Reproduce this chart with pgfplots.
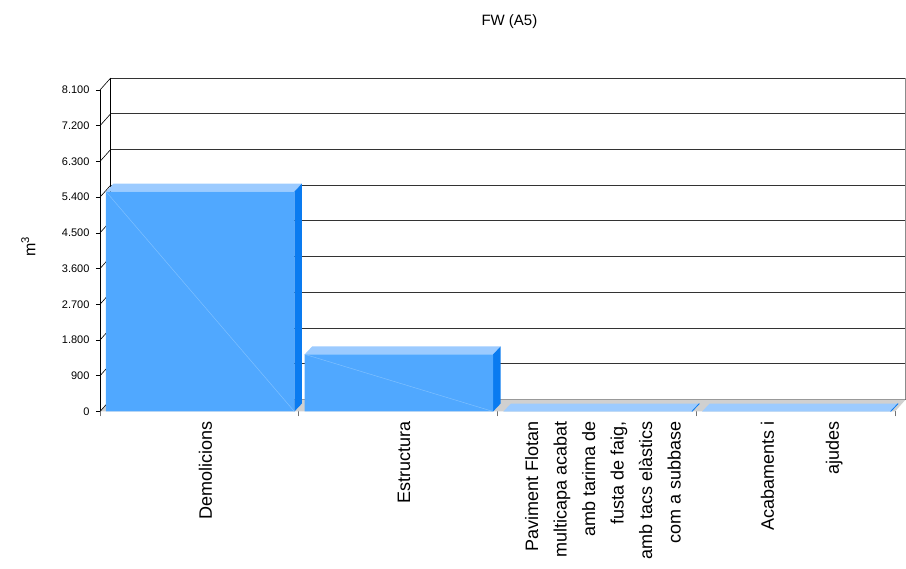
\documentclass[border=0pt]{standalone}
\usepackage{pgfplots}
\pgfplotsset{compat=1.18}
\usepackage{fontspec}
\setmainfont{Liberation Sans}

\definecolor{barfront}{RGB}{80,168,255}
\definecolor{bartop}{RGB}{156,203,255}
\definecolor{barside}{RGB}{10,123,240}
\definecolor{barline}{RGB}{125,192,255}
\definecolor{floorgray}{RGB}{208,208,208}

\begin{document}
\begin{tikzpicture}
\useasboundingbox (0,0) rectangle (906pt,569pt);
\begin{axis}[
  at={(100pt,157.5pt)}, anchor=south west,
  scale only axis, width=795pt, height=321.5pt,
  xmin=0, xmax=4, ymin=0, ymax=8100,
  clip=false,
  axis lines*=left,
  x axis line style={draw=none},
  y axis line style={black, line width=0.8pt},
  tick align=outside,
  major tick length=4pt,
  minor tick length=5pt,
  ytick={0,900,...,8100},
  scaled y ticks=false,
  y tick style={black, line width=0.6pt},
  yticklabel style={font=\fontsize{11}{13}\selectfont, xshift=-3pt},
  /pgf/number format/1000 sep={.},
  /pgf/number format/assume math mode=true,
  ymajorgrids,
  major grid style={black!80, line width=0.8pt, xshift=10.7pt, yshift=12pt},
  xtick={0.5,1.5,2.5,3.5},
  major x tick style={draw=none},
  minor xtick={0,1,2,3,4},
  minor x tick style={black!55, line width=0.8pt},
  xticklabels={Demolicions, Estructura,
    {Paviment Flotan\\multicapa acabat\\amb tarima de\\fusta de faig,\\amb tacs elàstics\\com a subbase},
    {Acabaments i\\[36.5pt]ajudes}},
  xticklabel style={xshift=6pt, yshift=-6pt, rotate=90, anchor=east, align=right,
    inner sep=0pt, font=\fontsize{18}{28.5}\selectfont},
  title={FW (A5)},
  title style={at={(axis description cs:0.515,1.194)}, anchor=center,
    font=\fontsize{15}{18}\selectfont},
  ylabel={m\textsuperscript{3}},
  ylabel style={at={(axis description cs:-0.090,0.513)}, anchor=center,
    font=\fontsize{16}{18}\selectfont},
]
% floor and back wall
\fill[floorgray] (axis cs:0,0) -- (axis cs:4,0) -- ++(10.7pt,12pt) -- ++(-795pt,0pt) -- cycle;
\draw[black, line width=0.8pt] (axis cs:0,0) ++(10.7pt,12pt) -- ++(0pt,321.5pt);
\draw[black!45, line width=0.8pt] (axis cs:4,0) ++(10.7pt,12pt) -- ++(0pt,321.5pt);
\pgfplotsinvokeforeach{0,900,...,8100}{
  \draw[black, line width=0.6pt] (axis cs:0,#1) -- ++(10.7pt,12pt);
}

% top faces
\addplot[fill=bartop, draw=none] coordinates {(0.03,5540) (0.978,5540) (1.0157,5740) (0.0677,5740)} -- cycle;
\addplot[fill=bartop, draw=none] coordinates {(1.03,1440) (1.978,1440) (2.0157,1640) (1.0677,1640)} -- cycle;
\addplot[fill=bartop, draw=none] coordinates {(2.03,0) (2.978,0) (3.0157,200) (2.0677,200)} -- cycle;
\addplot[fill=bartop, draw=none] coordinates {(3.03,0) (3.978,0) (4.0157,200) (3.0677,200)} -- cycle;

% side faces
\addplot[fill=barside, draw=none] coordinates {(0.978,0) (1.0157,200) (1.0157,5740) (0.978,5540)} -- cycle;
\addplot[fill=barside, draw=none] coordinates {(1.978,0) (2.0157,200) (2.0157,1640) (1.978,1440)} -- cycle;
\addplot[barside, line width=0.8pt] coordinates {(2.978,0) (3.0157,200)};
\addplot[barside, line width=0.8pt] coordinates {(3.978,0) (4.0157,200)};

% front faces
\addplot[ybar, bar width=0.948, fill=barfront, draw=none]
  coordinates {(0.504,5540) (1.504,1440) (2.504,0) (3.504,0)};
\addplot[barline, line width=0.5pt] coordinates {(0.03,5540) (0.978,0)};
\addplot[barline, line width=0.5pt] coordinates {(1.03,1440) (1.978,0)};
\end{axis}
\end{tikzpicture}
\end{document}
